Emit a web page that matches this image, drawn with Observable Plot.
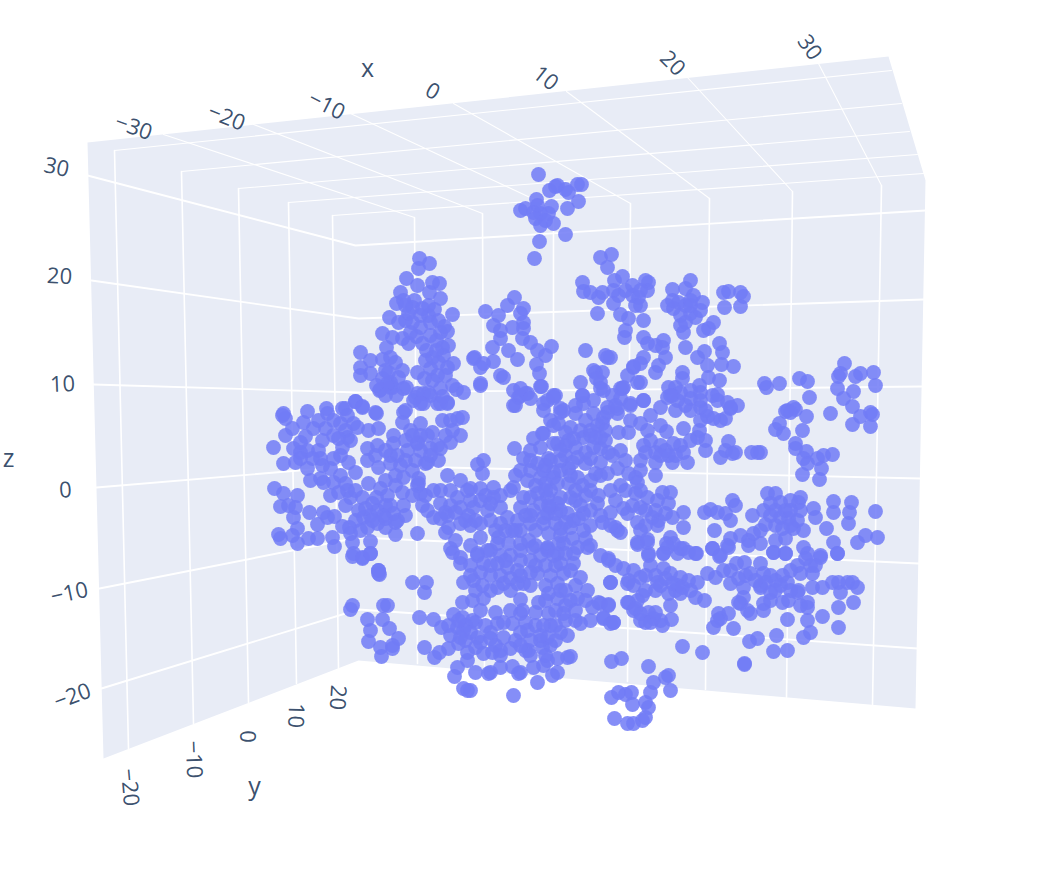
<!DOCTYPE html>
<html><head><meta charset="utf-8">
<script src="https://cdn.jsdelivr.net/npm/d3@7"></script>
<script src="https://cdn.jsdelivr.net/npm/@observablehq/plot@0.6"></script>
<style>html,body{margin:0;padding:0;background:#fff}svg{display:block}</style>
</head><body><div id="chart"></div>
<script>
// Projected scene: every pair is [screen x, screen y].
const sceneOutline = [[87,142],[888,56],[925,180],[915,708],[358,660],[103,758]];
const zGrid = [
 [[87,175],[355,245],[925,210]],
 [[91,280],[358,318],[923,299]],
 [[93,384],[358,392],[921,386]],
 [[96,487],[358,465],[920,478]],
 [[99,588],[358,537],[918,563]],
 [[101,688],[358,609],[917,648]]];
const wallVerticals = [
 [[114,150],[128,748]],[[181,171],[193,723]],[[238,188],[248,702]],[[288,202],[296,683]],[[332,215],[338,668]],
 [[414,217],[417,663]],[[482,213],[484,671]],[[553,208],[553,676]],[[630,203],[627,681]],[[709,198],[705,689]],[[792,191],[786,697]],[[881,185],[872,704]]];
const ceilingLines = [
 [[114,150],[891,70]],[[181,171],[901,103]],[[238,188],[909,131]],[[288,202],[917,154]],[[332,215],[923,173]],
 [[163,134],[414,217]],[[253,124],[482,213]],[[350,113],[553,208]],[[453,103],[630,203]],[[566,91],[709,198]],[[687,77],[792,191]],[[818,63],[881,185]]];
const tickText = ["−30","−20","−10","0","10","20","30", "30","20","10","0","−10","−20", "−20","−10","0","10","20"];
const tickX = [133,226,326,432,545,672,809, 56,59,62,65,69,72, 129,193,247,295,337];
const tickY = [127,117,105,91,78,63,47, 167,276,384,490,593,696, 787,759,736,715,697];
const tickAngle = [20,22,27,30,38,45,55, 12,3,-2,-3,-12,-20, 85,88,90,92,94];
const axisTitles = ["x","y","z"];
const axisTitleX = [367,254,8];
const axisTitleY = [68,786,458];

const topCluster = [[538,174],[549,190],[557,185],[536,199],[551,206],[520,210],[525,208],[537,205],[533,212],[540,213],[548,213],[535,218],[540,225],[553,223],[545,220],[539,241],[534,258],[555,186],[565,189],[568,192],[577,184],[581,184],[578,201],[567,208],[565,234]];
const upperLeft = [[419,258],[429,263],[418,268],[406,278],[417,285],[432,282],[439,283],[400,292],[429,292],[414,300],[403,300],[396,303],[440,298],[428,305],[452,314],[389,317],[408,313],[420,315],[405,320],[428,315],[438,320],[447,331],[382,333],[392,337],[410,332],[420,327],[430,335],[440,332],[408,343],[422,343],[442,347],[386,347],[360,352],[370,360],[382,359],[390,357],[395,362],[360,367],[370,373],[360,375],[402,370],[417,372],[432,357],[443,355],[453,363],[430,368],[447,367],[437,375],[382,378],[390,382],[379,390],[392,387],[406,387],[452,385],[456,389],[463,392],[355,401],[362,406],[375,412],[417,393],[428,392],[413,400],[423,403],[447,402],[440,403],[405,410],[345,408]];
const upperMiddle = [[485,311],[498,315],[507,305],[514,297],[523,308],[520,313],[493,325],[500,330],[512,327],[523,322],[523,328],[500,338],[522,338],[530,342],[492,347],[508,350],[537,350],[551,346],[545,355],[517,359],[474,357],[473,358],[483,363],[493,361],[480,367],[500,375],[503,377],[536,364],[539,373],[480,383],[541,386],[513,390],[525,393],[518,397],[513,405],[553,395],[543,403],[560,408],[585,350],[607,357],[605,355],[610,357],[593,370],[602,372],[580,382],[600,382],[582,395],[593,400],[603,390],[620,388],[627,375],[633,367],[637,382],[623,387],[583,403],[607,407],[630,405]];
const upperRight = [[600,257],[611,254],[607,267],[582,282],[583,291],[622,276],[614,280],[590,292],[602,292],[598,297],[613,290],[618,295],[632,285],[645,280],[648,282],[647,290],[632,295],[638,297],[635,305],[613,303],[597,313],[620,314],[628,318],[643,320],[625,330],[624,337],[643,337],[647,343],[663,340],[655,345],[662,347],[672,289],[690,280],[685,288],[693,295],[702,302],[667,305],[678,302],[673,308],[680,315],[690,313],[695,317],[685,322],[713,322],[703,330],[708,328],[683,332],[685,347],[719,343],[722,352],[704,351],[697,357],[707,365],[721,364],[733,366],[708,377],[719,380],[682,372],[682,378],[723,292],[728,291],[740,292],[743,296],[724,307],[740,306],[665,357],[643,357],[633,366],[640,363],[655,372],[658,365],[640,382],[622,388],[595,372],[563,410],[668,387],[675,387],[699,385],[667,397],[677,400],[690,398],[700,400],[712,395],[717,394],[727,402],[737,405],[643,400],[660,407],[617,408],[700,407],[730,408]];
const farRightUpper = [[764,383],[766,387],[779,383],[799,378],[807,381],[809,397],[844,363],[840,373],[838,376],[837,388],[853,391],[855,376],[860,373],[873,372],[875,385],[843,398],[852,406],[793,407],[787,410],[830,413],[870,412],[860,416],[872,414],[852,424],[870,426],[785,411],[795,409],[790,412],[806,416],[779,423],[775,429],[783,433],[802,430],[795,443],[806,451],[795,448],[823,455],[832,454],[817,458],[803,458],[807,463],[821,468],[802,474],[819,479],[751,452],[760,452],[757,452]];
const centerRight = [[725,418],[720,420],[713,418],[707,416],[730,407],[717,400],[699,430],[683,428],[666,431],[697,437],[705,440],[705,450],[728,441],[725,450],[732,453],[720,457],[735,452],[687,462],[672,462],[680,445],[683,452],[673,443],[660,445],[643,445],[645,452],[655,452],[668,455],[655,462],[655,475],[640,470],[635,477],[628,473],[620,485],[637,482],[617,468],[607,473],[600,475],[608,452],[600,448],[628,432],[618,432],[647,430],[640,423],[650,415],[630,403],[643,400],[617,413],[607,412],[603,417],[593,413],[575,413],[602,423],[582,395]];
const centerDense = [[555,395],[547,400],[560,412],[550,420],[558,423],[570,427],[543,433],[583,437],[573,438],[557,443],[565,445],[593,447],[585,452],[548,458],[560,460],[577,457],[585,463],[543,470],[553,472],[568,468],[577,477],[545,483],[557,483],[568,483],[595,473],[590,490],[598,495],[597,503],[602,522],[578,518],[573,520],[583,530],[583,513],[567,513],[570,527],[560,510],[550,507],[560,497],[547,497],[543,517],[555,523],[547,548],[563,543],[577,547],[587,547],[557,553],[573,553],[608,558],[617,530],[615,527],[620,532],[623,508],[635,493],[647,497],[662,492],[670,492],[657,500],[668,503],[683,512],[658,520],[640,507],[627,513],[637,522],[652,517],[657,525],[683,527],[672,517],[670,537],[637,542],[647,539],[666,543],[648,553],[673,543],[683,548],[695,553],[663,553],[677,553]];
const rightLower = [[704,512],[710,509],[717,512],[725,513],[732,500],[735,505],[730,520],[752,515],[714,530],[767,493],[775,493],[770,503],[780,502],[790,500],[800,497],[798,502],[763,510],[765,524],[780,517],[788,518],[797,520],[782,528],[793,528],[803,530],[785,538],[813,508],[815,517],[826,528],[833,501],[833,512],[851,502],[849,512],[848,523],[875,511],[877,537],[865,535],[857,542],[833,542],[837,553],[820,555],[803,547],[807,553],[773,552],[785,553],[760,543],[748,540],[730,538],[740,535],[727,545],[712,548],[720,555],[753,533],[748,545]];
const lowerRight = [[608,560],[615,565],[623,568],[633,570],[648,555],[637,544],[647,542],[667,547],[663,553],[680,548],[688,552],[696,553],[650,565],[663,568],[640,577],[628,580],[610,582],[657,582],[670,573],[680,577],[688,580],[677,585],[675,590],[668,593],[680,593],[697,582],[707,573],[715,577],[723,570],[712,548],[719,556],[728,547],[736,563],[744,562],[760,563],[750,573],[730,583],[738,578],[743,587],[760,585],[763,573],[775,580],[787,582],[782,575],[773,552],[785,553],[797,565],[810,565],[820,557],[812,573],[800,573],[837,553],[798,590],[812,587],[822,587],[832,582],[838,582],[847,582],[852,582],[857,587],[840,592],[853,602],[838,607],[822,616],[807,620],[787,619],[838,627],[810,632],[803,637],[776,635],[757,638],[749,641],[773,651],[787,650],[744,663],[744,664],[702,652],[682,646],[648,666],[621,658],[611,661],[720,618],[713,627],[733,628],[728,613],[718,613],[717,620],[704,600],[695,597],[670,605],[642,595],[628,602],[637,600],[633,610],[640,613],[648,612],[653,618],[645,622],[662,625],[671,619],[660,620],[610,623],[613,622],[608,605],[600,603],[603,617],[743,597],[740,603],[747,610],[750,613],[763,610],[763,603],[770,600],[782,602],[788,600],[770,592],[760,587],[800,605],[807,602],[807,607],[797,592],[738,602]];
const bottomCluster = [[653,682],[665,677],[668,675],[670,690],[650,692],[645,702],[648,707],[611,697],[618,692],[625,694],[631,692],[632,704],[614,718],[627,723],[633,723],[642,720],[645,717]];
const lowerMiddle = [[352,556],[362,557],[370,553],[378,570],[379,574],[412,582],[426,582],[424,592],[352,605],[350,609],[383,605],[387,605],[367,619],[382,619],[389,628],[370,630],[398,638],[368,641],[380,647],[392,648],[392,645],[381,656],[419,617],[433,619],[441,627],[424,647],[434,657],[439,652],[453,614],[462,617],[472,620],[475,622],[457,627],[465,625],[450,635],[460,637],[477,637],[448,648],[458,643],[467,652],[457,667],[454,676],[475,672],[463,688],[467,690],[470,690],[467,660],[490,672],[488,673],[500,667],[512,666],[520,672],[518,673],[537,682],[533,667],[543,665],[552,675],[557,672],[513,695],[483,653],[492,652],[500,655],[510,648],[525,650],[528,650],[542,647],[550,645],[557,658],[567,657],[570,656],[547,660],[490,638],[503,637],[520,632],[527,630],[540,640],[547,637],[560,632],[567,635],[550,625],[548,613],[543,625],[497,623],[503,622],[512,623],[520,613],[522,610],[520,599],[538,602],[483,598],[472,600],[462,602],[580,623],[563,613],[548,593],[557,598],[565,605],[577,598],[587,590],[592,607],[598,602],[608,604],[603,618],[613,622],[610,582],[627,583],[627,602],[635,608],[463,582],[473,580],[482,585],[497,587],[503,583],[517,583],[523,583],[537,573],[460,563],[452,552],[477,555],[483,563],[497,563],[507,567],[517,570],[510,555],[530,560],[547,550],[560,563],[573,563],[580,577],[557,583],[563,573]];
const leftCluster = [[283,413],[285,418],[282,415],[307,411],[326,408],[285,435],[292,428],[273,447],[283,463],[293,448],[303,422],[313,428],[327,413],[342,408],[355,401],[362,407],[376,413],[347,415],[353,423],[340,423],[325,428],[333,435],[345,430],[357,427],[368,430],[378,428],[342,447],[300,452],[307,450],[318,450],[295,462],[307,468],[322,465],[330,468],[348,462],[355,472],[320,478],[323,482],[338,492],[345,483],[350,497],[367,448],[377,445],[367,460],[378,467],[393,443],[403,412],[402,422],[393,435],[420,423],[397,455],[407,450],[417,443],[427,435],[415,460],[427,462],[390,463],[403,477],[385,480],[368,483],[402,492],[380,488],[387,495],[418,483],[420,493],[422,505],[403,505],[393,513],[377,510],[363,517],[372,503],[367,527],[377,523],[385,527],[395,534],[417,533],[274,488],[283,493],[297,495],[280,506],[288,505],[295,507],[293,517],[309,512],[323,512],[317,524],[327,517],[334,516],[342,526],[278,534],[280,538],[292,535],[297,528],[297,543],[308,538],[317,538],[332,537],[334,546],[350,533],[352,542],[370,541],[353,553],[362,558],[370,553],[349,527],[378,570],[378,573]];
const middleBand = [[380,389],[390,387],[403,388],[387,383],[415,397],[423,393],[430,395],[437,403],[447,403],[420,403],[442,420],[450,420],[457,418],[462,417],[432,432],[460,435],[450,442],[440,448],[430,448],[417,442],[438,460],[425,463],[483,460],[477,464],[482,473],[514,448],[533,438],[542,433],[515,405],[520,395],[527,393],[480,385],[540,386],[553,397],[543,410],[553,425],[553,443],[523,458],[520,470],[537,463],[550,460],[513,487],[527,480],[540,477],[553,477],[510,490],[523,497],[537,493],[550,490],[557,503],[520,507],[533,510],[547,513],[517,520],[530,523],[543,523],[547,547],[553,555],[558,543],[532,547],[520,543],[508,543],[498,537],[497,543],[487,550],[477,553],[460,557],[450,548],[480,537],[448,527],[445,532],[470,525],[460,523],[480,523],[433,517],[447,515],[440,503],[427,510],[425,495],[417,485],[418,478],[433,490],[447,475],[460,480],[457,497],[460,507],[467,490],[480,488],[493,487],[493,497],[473,507],[487,510],[500,507],[507,517],[500,523],[455,540],[470,545],[490,550],[500,555],[520,550],[535,545]];
const denseUpper = [[412,307],[422,308],[434,309],[398,322],[412,322],[430,322],[444,326],[402,338],[416,336],[436,340],[426,350],[436,350],[448,345],[425,360],[438,362],[445,375],[432,380],[424,378],[440,388],[442,396],[385,370],[398,377],[388,372],[376,385],[385,395],[396,395],[672,300],[685,305],[690,305],[680,325],[625,290],[640,290],[640,305],[672,395],[680,392],[690,390],[685,405],[700,392],[705,410],[675,410],[690,410],[670,395],[597,425],[605,430],[590,435],[600,437],[650,440],[665,450],[660,455],[675,455],[612,395],[620,398],[615,405],[596,378],[600,388],[520,388],[530,398],[690,300],[700,310],[405,305],[700,420],[690,440],[660,425],[630,420],[620,450],[625,460],[640,460]];
const denseLeft = [[318,420],[333,420],[347,437],[338,438],[350,440],[300,442],[312,458],[300,458],[333,458],[340,475],[333,482],[347,490],[355,490],[362,497],[385,505],[370,515],[383,515],[390,505],[397,520],[405,515],[365,508],[358,510],[372,520],[385,518],[395,522],[412,495],[395,485],[376,497],[390,455],[405,460],[420,450],[430,455],[412,470],[400,465],[395,475],[375,455],[385,450],[305,436],[322,440],[320,458],[340,455],[310,480],[330,495],[345,505],[355,520],[360,530],[410,430],[420,435],[437,445],[445,435],[452,430],[405,440],[412,435]];
const denseCentre = [[440,490],[450,490],[470,500],[480,500],[490,503],[450,505],[445,512],[468,515],[475,520],[490,520],[530,450],[540,447],[565,455],[575,447],[560,470],[530,470],[570,475],[535,485],[545,490],[530,497],[540,503],[575,490],[585,495],[570,497],[580,505],[590,510],[555,513],[565,522],[525,515],[535,530],[548,533],[560,535],[572,538],[585,538],[520,530],[528,540],[540,555],[565,553],[505,530],[512,530],[590,525],[590,480],[582,485],[568,440],[580,430],[590,430],[565,432],[575,405],[585,420],[595,437],[605,440],[612,455],[600,462],[590,458],[610,490],[615,500],[610,512],[625,490],[632,505],[645,510],[640,490],[655,510],[665,513],[645,525],[640,530],[470,488],[485,495],[500,495],[455,512],[465,520],[440,518],[515,475],[530,460],[545,465],[560,450],[572,462],[575,500],[560,528],[548,505],[530,515],[515,530],[495,530],[600,515],[610,525],[590,545],[600,555]];
const denseLower = [[470,565],[480,572],[490,575],[500,575],[510,578],[520,575],[530,572],[470,575],[490,565],[505,560],[520,560],[535,565],[545,565],[550,575],[555,565],[570,570],[575,585],[565,590],[585,600],[570,600],[545,600],[560,590],[575,610],[555,610],[565,620],[555,625],[540,635],[535,625],[485,625],[490,632],[480,642],[495,645],[515,640],[530,640],[555,640],[530,655],[545,655],[470,632],[463,630],[458,620],[448,625],[465,640],[475,647],[665,578],[672,583],[682,587],[655,575],[645,575],[633,585],[640,620],[650,622],[655,612],[770,575],[780,585],[765,582],[815,565],[805,558],[775,510],[785,510],[790,525],[775,525],[770,515],[475,590],[490,590],[510,590],[530,585],[545,585],[480,610],[495,612],[510,610],[535,612],[525,622],[500,650],[520,645],[575,620],[590,620],[655,590],[645,590],[660,585],[690,590],[730,570],[745,575],[755,580],[790,570],[790,590],[775,590],[800,510],[790,510],[760,530],[775,540]];

const points = [topCluster,upperLeft,upperMiddle,upperRight,farRightUpper,centerRight,centerDense,rightLower,lowerRight,bottomCluster,lowerMiddle,leftCluster,middleBand,denseUpper,denseLeft,denseCentre,denseLower].flat();
const pathRows = list => list.flatMap((p,i)=>p.map(c=>({id:i,px:c[0],py:c[1]})));
const ticks = tickText.map((t,i)=>({t,px:tickX[i],py:tickY[i],a:tickAngle[i]}));
const titles = axisTitles.map((t,i)=>({t,px:axisTitleX[i],py:axisTitleY[i]}));

const chart = Plot.plot({
  width:1046,height:882,margin:0,
  style:{background:"transparent"},
  x:{axis:null,domain:[0,1046],range:[0,1046]},
  y:{axis:null,domain:[0,882],range:[0,882]},
  marks:[
    Plot.line(sceneOutline.concat([sceneOutline[0]]),{x:d=>d[0],y:d=>d[1],fill:"#e8ecf6",stroke:"none"}),
    Plot.line(pathRows(ceilingLines),{x:"px",y:"py",z:"id",stroke:"#fff",strokeWidth:1.1}),
    Plot.line(pathRows(wallVerticals),{x:"px",y:"py",z:"id",stroke:"#fff",strokeWidth:1.6}),
    Plot.line(pathRows(zGrid),{x:"px",y:"py",z:"id",stroke:"#fff",strokeWidth:1.9}),
    Plot.dot(points,{x:d=>d[0],y:d=>d[1],r:7.4,fill:"#717bf6",fillOpacity:0.86,stroke:"none"}),
    Plot.text(ticks,{x:"px",y:"py",text:"t",rotate:"a",fontSize:22,fontFamily:"Open Sans",fill:"#2a3f5f",fillOpacity:0.92,textAnchor:"middle",lineAnchor:"middle"}),
    Plot.text(titles,{x:"px",y:"py",text:"t",fontSize:25,fontFamily:"Open Sans",fill:"#2a3f5f",fillOpacity:0.92,textAnchor:"middle",lineAnchor:"middle"})
  ]
});
document.getElementById("chart").append(chart);
</script></body></html>
